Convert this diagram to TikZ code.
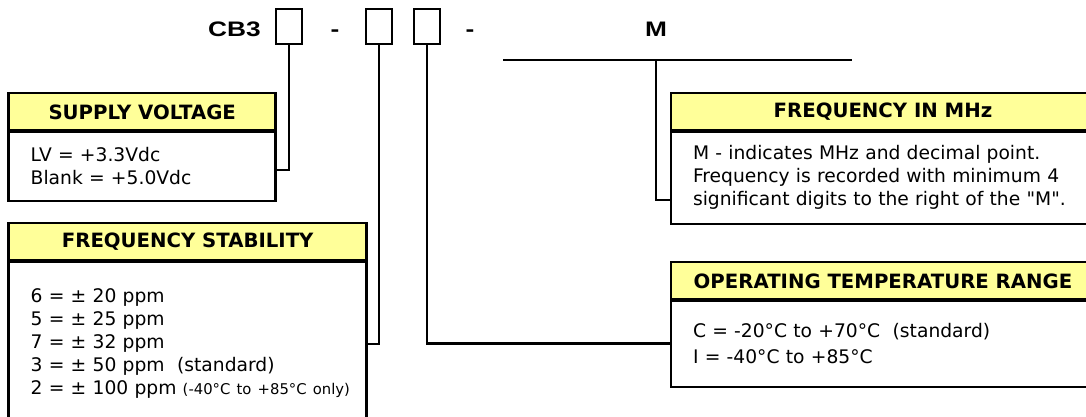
\documentclass[tikz,border=0pt]{standalone}
\usepackage{fontspec}
\newfontfamily\boxfont{DejaVu Sans}
\newfontfamily\partfont{Liberation Sans}[FakeStretch=1.25]
\usetikzlibrary{positioning}
\definecolor{headyellow}{RGB}{255,255,153}
\tikzset{
  partcode/.style={font=\partfont\bfseries\fontsize{21}{24}\selectfont, inner sep=0pt, anchor=base},
  slotbox/.style={draw, line width=2pt, minimum width=26pt, minimum height=35pt, inner sep=0pt},
  headbox/.style={draw, line width=2.5pt, fill=headyellow, minimum height=38pt, inner sep=0pt, outer sep=0pt,
    font=\boxfont\bfseries\fontsize{19.7}{22}\selectfont},
  bodybox/.style={draw, line width=2.5pt, align=left, inner xsep=22pt, inner ysep=0pt, outer sep=0pt,
    anchor=north west, font=\boxfont\fontsize{18.7}{23}\selectfont},
  wire/.style={line width=2.8pt},
  rule/.style={line width=3.5pt},
}
\begin{document}
\begin{tikzpicture}[x=1pt, y=-1pt]
    \useasboundingbox (0,0) rectangle (1086,417);
    \clip (0,0) rectangle (1086,417);
    % part number
    \node[partcode] (cb) at (234.5,37) {CB3};
    \node[slotbox] (s1) at (289,26.5) {};
    \node[partcode] (d1) at (335,37) {-};
    \node[slotbox] (s2) at (379,26.5) {};
    \node[slotbox, right=20pt of s2] (s3) {};
    \node[partcode] (d2) at (470,37) {-};
    \node[partcode] (m) at (656,37) {M};
    \coordinate (uleft) at (503,60);
    \coordinate (uright) at (852,60);
    % boxes
    \node[bodybox, text width=223pt, minimum height=70pt] (sv) at (8.7,131)
      {LV = +3.3Vdc\\Blank = +5.0Vdc};
    \node[headbox, minimum width=267pt, above=0pt of sv] (svh) {SUPPLY VOLTAGE};
    \node[bodybox, text width=314pt, minimum height=166pt] (fs) at (8.7,261)
      {6 = ± 20 ppm\\5 = ± 25 ppm\\7 = ± 32 ppm\\3 = ± 50 ppm~~(standard)\\
       2 = ± 100 ppm\ \rlap{\fontsize{14.8}{18}\selectfont(-40°C to +85°C only)}};
    \node[headbox, minimum width=358pt, above=0pt of fs] (fsh) {FREQUENCY STABILITY};
    \node[bodybox, text width=380pt, minimum height=93pt] (fm) at (671,131)
      {M - indicates MHz and decimal point.\\Frequency is recorded with minimum 4\\significant digits to the right of the "M".};
    \node[headbox, minimum width=424pt, above=0pt of fm] (fmh) {FREQUENCY IN MHz};
    \node[bodybox, text width=380pt, minimum height=87pt, font=\boxfont\fontsize{18.7}{26}\selectfont] (ot) at (671,300)
      {C = -20°C to +70°C~~(standard)\\I = -40°C to +85°C};
    \node[headbox, minimum width=424pt, above=0pt of ot] (oth) {OPERATING TEMPERATURE RANGE};
    % header rules
    \foreach \h in {svh,fsh,fmh,oth}
      \draw[rule] (\h.south west) -- (\h.south east);
    % connectors
    \draw[wire] (s1.south) |- ([yshift=-4pt]sv.east);
    \draw[wire] (s2.south) |- (fs.east);
    \draw[wire] (s3.south) |- (ot.west);
    \draw[wire] (uleft) -- (uright);
    \draw[wire] (m.south |- uleft) |- ([yshift=-22.5pt]fm.west);
\end{tikzpicture}
\end{document}
